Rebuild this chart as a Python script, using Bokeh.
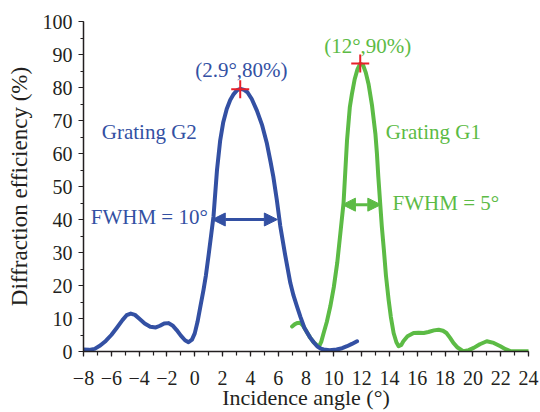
from bokeh.plotting import figure
from bokeh.models import Range1d, SingleIntervalTicker, Label, Arrow, NormalHead
from bokeh.embed import file_html
from bokeh.resources import INLINE

# Grating G2 (blue)
g2_angle = [-8.0, -7.6, -7.2, -6.8, -6.4, -6.0, -5.6, -5.2, -4.9, -4.6, -4.3, -4.0, -3.6, -3.2,
            -2.8, -2.5, -2.2, -1.9, -1.6, -1.3, -1.0, -0.7, -0.45, -0.2, 0.0, 0.2, 0.4, 0.63,
            0.8, 0.99, 1.2, 1.35, 1.6, 1.83, 2.05, 2.3, 2.55, 2.8, 3.05, 3.3, 3.55, 3.8, 4.1,
            4.47, 4.85, 5.19, 5.45, 5.65, 5.9, 6.15, 6.5, 6.87, 7.1, 7.35, 7.6, 7.88, 8.1, 8.3,
            8.55, 8.8, 9.05, 9.27, 9.7, 10.2, 10.6, 10.95, 11.3, 11.67]
g2_eff = [0.6, 0.5, 0.8, 1.8, 3.2, 5.0, 7.2, 9.5, 11.0, 11.5, 11.1, 10.0, 8.5, 7.5,
          7.3, 7.8, 8.5, 8.6, 7.9, 6.5, 4.8, 3.4, 2.8, 3.6, 5.5, 9.0, 13.5, 18.7,
          23.0, 29.0, 36.0, 41.0, 55.0, 64.0, 69.5, 73.5, 76.2, 78.0, 79.2, 79.6, 79.3, 78.5, 76.5,
          73.0, 68.5, 63.0, 57.5, 53.0, 46.0, 38.0, 29.3, 20.8, 17.0, 13.7, 10.5, 7.2, 5.6, 4.2,
          2.8, 1.6, 0.9, 0.6, 0.4, 0.6, 1.0, 1.6, 2.3, 3.1]

# Grating G1 (green)
g1_angle = [7.0, 7.2, 7.4, 7.59, 7.75, 7.88, 8.1, 8.3, 8.55, 8.8, 8.95, 9.1, 9.27, 9.5, 9.75,
            10.0, 10.25, 10.47, 10.7, 10.95, 11.15, 11.3, 11.5, 11.7, 11.9, 12.1, 12.3, 12.5,
            12.75, 12.99, 13.1, 13.2, 13.35, 13.45, 13.6, 13.75, 13.94, 14.1, 14.3, 14.5, 14.66,
            14.85, 15.0, 15.3, 15.74, 16.1, 16.46, 16.8, 17.2, 17.54, 17.85, 18.1, 18.35, 18.6,
            18.9, 19.3, 19.7, 20.06, 20.5, 21.0, 21.5, 21.98, 22.35, 22.7, 23.4, 24.0]
g1_eff = [7.6, 8.3, 8.65, 8.7, 8.0, 7.2, 5.6, 4.2, 2.8, 1.8, 1.6, 3.0, 5.6, 9.0, 13.7,
          19.5, 27.0, 35.8, 45.0, 64.0, 74.0, 78.0, 82.5, 85.5, 87.2, 86.8, 84.5, 81.0,
          74.5, 66.0, 60.0, 53.0, 44.0, 38.0, 30.8, 23.0, 15.7, 10.5, 5.6, 2.8, 1.6,
          2.0, 3.1, 4.6, 5.6, 5.7, 5.6, 5.9, 6.4, 6.6, 6.3, 5.6, 4.2, 2.6,
          1.2, 0.1, 0.4, 1.1, 2.2, 3.1, 2.6, 1.6, 0.7, 0.1, 0.1, 0.1]

peak_angle = [3.27, 11.9]
peak_eff = [79.5, 87.3]

fwhm_g2 = [1.26, 5.94, 40.0]
fwhm_g1 = [10.62, 13.38, 44.5]

x_ticks = [-8, -6, -4, -2, 0, 2, 4, 6, 8, 10, 12, 14, 16, 18, 20, 22, 24]
x_tick_labels = ["\u22128", "\u22126", "\u22124", "\u22122", "0", "2", "4", "6", "8", "10",
                 "12", "14", "16", "18", "20", "22", "24"]

BLUE = "#3350a3"
GREEN = "#5cbb45"
RED = "#e8202a"
INK = "#231f20"
FONT = "Liberation Serif"

p = figure(width=540, height=412, x_range=Range1d(-8, 24), y_range=Range1d(0, 100),
           output_backend="svg", toolbar_location=None,
           min_border_left=83, min_border_right=12, min_border_top=21, min_border_bottom=60)
p.outline_line_color = None
p.xgrid.visible = False
p.ygrid.visible = False

p.xaxis.ticker = SingleIntervalTicker(interval=2, num_minor_ticks=2)
p.yaxis.ticker = SingleIntervalTicker(interval=10, num_minor_ticks=2)
p.xaxis.major_label_overrides = {t: s for t, s in zip(x_ticks, x_tick_labels)}

for ax in (p.xaxis, p.yaxis):
    ax.axis_line_color = INK
    ax.axis_line_width = 1.5
    ax.major_tick_line_color = INK
    ax.minor_tick_line_color = INK
    ax.major_tick_line_width = 1.2
    ax.minor_tick_line_width = 1.2
    ax.major_tick_in = 0
    ax.minor_tick_in = 0
    ax.major_label_text_font = FONT
    ax.major_label_text_font_size = "20px"
    ax.major_label_text_color = INK
    ax.axis_label_text_font = FONT
    ax.axis_label_text_font_style = "normal"
    ax.axis_label_text_color = INK

p.xaxis.major_tick_out = 5
p.xaxis.minor_tick_out = 4
p.yaxis.major_tick_out = 5
p.yaxis.minor_tick_out = 3
p.xaxis.major_label_standoff = 14
p.yaxis.major_label_standoff = 6
p.xaxis.axis_label = "Incidence angle (\u00b0)"
p.yaxis.axis_label = "Diffraction efficiency (%)"
p.xaxis.axis_label_text_font_size = "22px"
p.yaxis.axis_label_text_font_size = "23px"
p.xaxis.axis_label_standoff = -3
p.yaxis.axis_label_standoff = 8

p.line(g1_angle, g1_eff, line_color=GREEN, line_width=4, line_join="round", line_cap="round")
p.line(g2_angle, g2_eff, line_color=BLUE, line_width=4, line_join="round", line_cap="round")
p.scatter(peak_angle, peak_eff, marker="cross", size=18, line_color=RED, line_width=2)

p.add_layout(Arrow(x_start=fwhm_g2[0], x_end=fwhm_g2[1], y_start=fwhm_g2[2], y_end=fwhm_g2[2],
                   line_color=BLUE, line_width=3,
                   start=NormalHead(size=13, fill_color=BLUE, line_color=BLUE),
                   end=NormalHead(size=13, fill_color=BLUE, line_color=BLUE)))
p.add_layout(Arrow(x_start=fwhm_g1[0], x_end=fwhm_g1[1], y_start=fwhm_g1[2], y_end=fwhm_g1[2],
                   line_color=GREEN, line_width=3,
                   start=NormalHead(size=13, fill_color=GREEN, line_color=GREEN),
                   end=NormalHead(size=13, fill_color=GREEN, line_color=GREEN)))

def lab(x, y, text, color):
    p.add_layout(Label(x=x, y=y, text=text, text_color=color, text_font=FONT,
                       text_font_size="21px", text_align="center", text_baseline="middle"))

lab(-3.27, 66.5, "Grating G2", BLUE)
lab(17.16, 66.5, "Grating G1", GREEN)
lab(3.35, 85.2, "(2.9\u00b0,80%)", BLUE)
lab(12.44, 92.7, "(12\u00b0,90%)", GREEN)
lab(-3.27, 40.8, "FWHM = 10\u00b0", BLUE)
lab(18.06, 45.0, "FWHM = 5\u00b0", GREEN)

open("out.html", "w").write(file_html(p, INLINE))
